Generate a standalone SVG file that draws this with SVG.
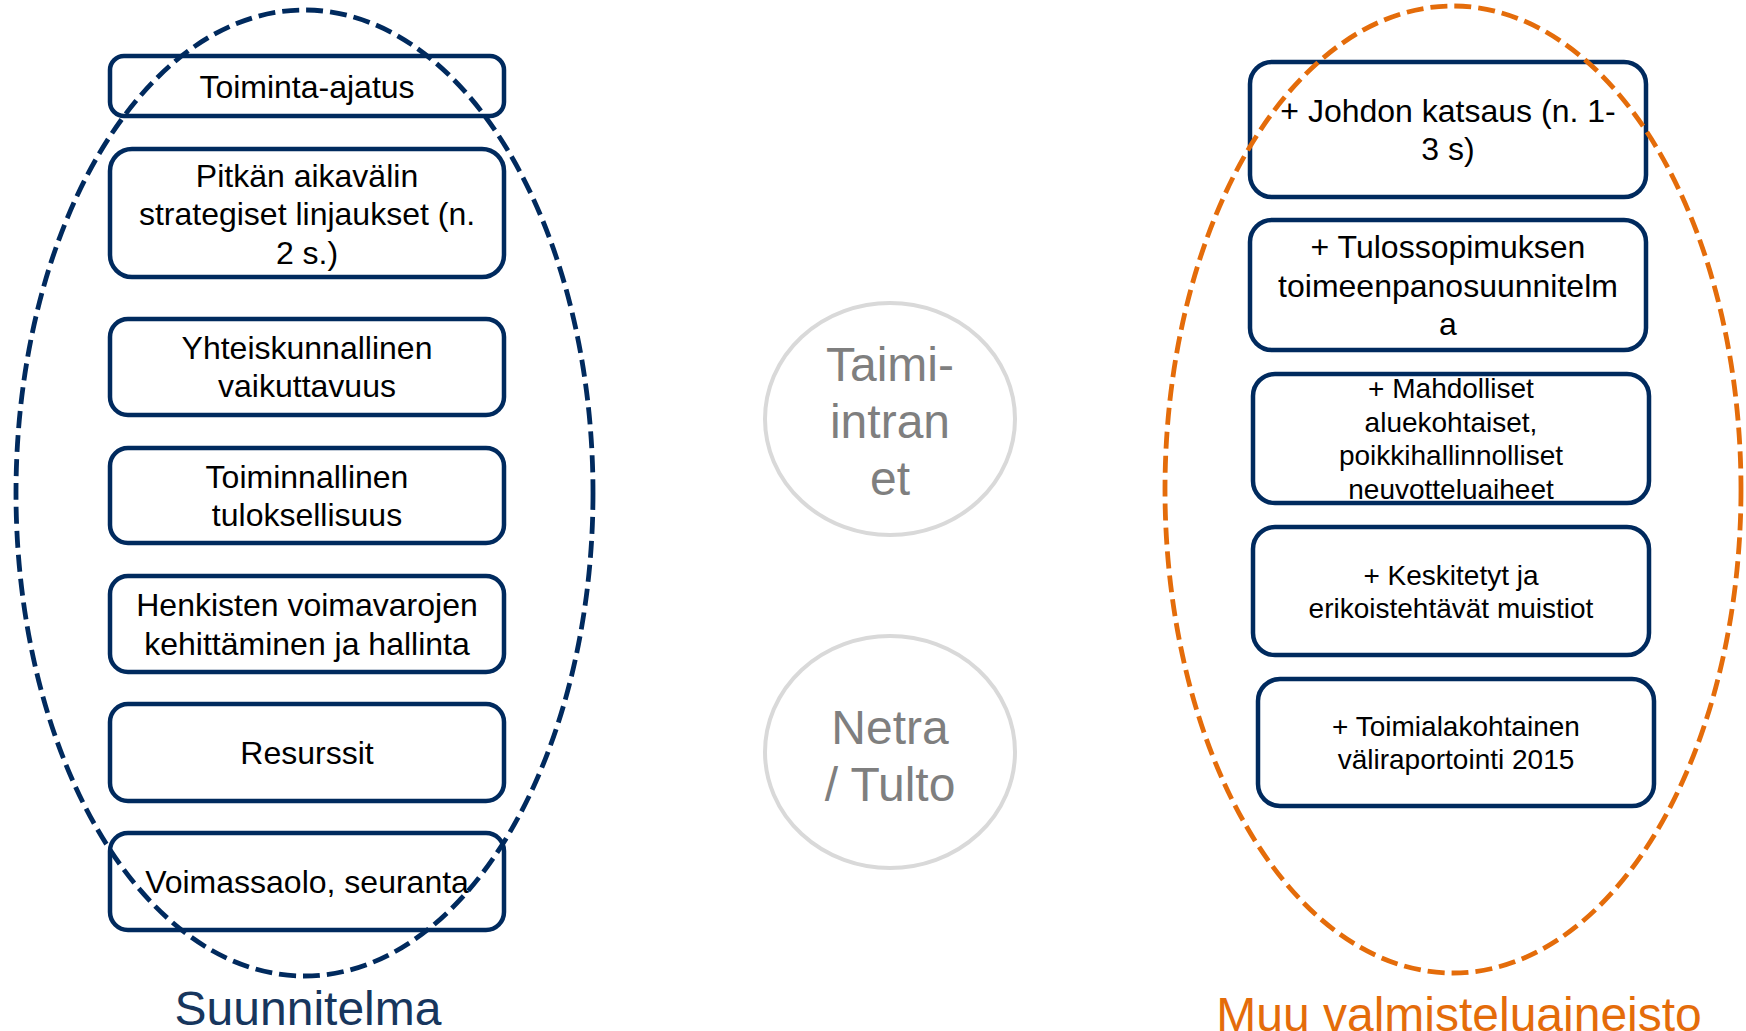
<svg xmlns="http://www.w3.org/2000/svg" width="1746" height="1031" viewBox="0 0 1746 1031">
<style>
.box{fill:#fff;stroke:#002A5E;stroke-width:4.5}
.t{font-family:"Liberation Sans",Arial,sans-serif;font-size:32px;fill:#000;text-anchor:middle}
.s{font-size:28px}
.c{fill:#fff;stroke:#D9D9D9;stroke-width:4}
.ct{font-family:"Liberation Sans",Arial,sans-serif;font-size:48px;fill:#7F7F7F;text-anchor:middle}
.ring{fill:none;stroke-width:4.8;stroke-dasharray:17 7}
.lbl{font-family:"Liberation Sans",Arial,sans-serif;font-size:48px;text-anchor:middle}
</style>
<rect width="1746" height="1031" fill="#fff"/>
<g id="left-boxes">
<g id="n1"><rect class="box" x="110" y="56" width="394" height="60" rx="14"/><text class="t" x="307" y="98">Toiminta-ajatus</text></g>
<g id="n2"><rect class="box" x="110" y="149" width="394" height="128" rx="22"/><text class="t" x="307" y="187">Pitkän aikavälin</text><text class="t" x="307" y="225">strategiset linjaukset (n.</text><text class="t" x="307" y="264">2 s.)</text></g>
<g id="n3"><rect class="box" x="110" y="319" width="394" height="96" rx="18"/><text class="t" x="307" y="359">Yhteiskunnallinen</text><text class="t" x="307" y="397">vaikuttavuus</text></g>
<g id="n4"><rect class="box" x="110" y="448" width="394" height="95" rx="18"/><text class="t" x="307" y="488">Toiminnallinen</text><text class="t" x="307" y="526">tuloksellisuus</text></g>
<g id="n5"><rect class="box" x="110" y="576" width="394" height="96" rx="18"/><text class="t" x="307" y="616">Henkisten voimavarojen</text><text class="t" x="307" y="655">kehittäminen ja hallinta</text></g>
<g id="n6"><rect class="box" x="110" y="704" width="394" height="97" rx="18"/><text class="t" x="307" y="764">Resurssit</text></g>
<g id="n7"><rect class="box" x="110" y="833" width="394" height="97" rx="18"/><text class="t" x="307" y="893">Voimassaolo, seuranta</text></g>
</g>
<g id="right-boxes">
<g id="r1"><rect class="box" x="1250" y="62" width="396" height="135" rx="22"/><text class="t" x="1448" y="122">+ Johdon katsaus (n. 1-</text><text class="t" x="1448" y="160">3 s)</text></g>
<g id="r2"><rect class="box" x="1250" y="220" width="396" height="130" rx="22"/><text class="t" x="1448" y="258">+ Tulossopimuksen</text><text class="t" x="1448" y="297">toimeenpanosuunnitelm</text><text class="t" x="1448" y="335">a</text></g>
<g id="r3"><rect class="box" x="1253" y="374" width="396" height="129" rx="22"/><text class="t s" x="1451" y="398">+ Mahdolliset</text><text class="t s" x="1451" y="432">aluekohtaiset,</text><text class="t s" x="1451" y="465">poikkihallinnolliset</text><text class="t s" x="1451" y="499">neuvotteluaiheet</text></g>
<g id="r4"><rect class="box" x="1253" y="527" width="396" height="128" rx="22"/><text class="t s" x="1451" y="585">+ Keskitetyt ja</text><text class="t s" x="1451" y="618">erikoistehtävät muistiot</text></g>
<g id="r5"><rect class="box" x="1258" y="679" width="396" height="127" rx="22"/><text class="t s" x="1456" y="736">+ Toimialakohtainen</text><text class="t s" x="1456" y="769">väliraportointi 2015</text></g>
</g>
<g id="rings">
<ellipse class="ring" cx="304.5" cy="493" rx="288.5" ry="483" stroke="#002A5E"/>
<ellipse class="ring" cx="1453" cy="489.5" rx="288" ry="483.5" stroke="#E46C0A"/>
</g>
<g id="taimi"><ellipse class="c" cx="890" cy="419" rx="125" ry="116"/><text class="ct" x="890" y="381">Taimi-</text><text class="ct" x="890" y="438">intran</text><text class="ct" x="890" y="495">et</text></g>
<g id="netra"><ellipse class="c" cx="890" cy="752" rx="125" ry="116"/><text class="ct" x="890" y="744">Netra</text><text class="ct" x="890" y="801">/ Tulto</text></g>
<g id="labels">
<text class="lbl" x="308" y="1025" fill="#17365D">Suunnitelma</text>
<text class="lbl" x="1459" y="1031" fill="#E46C0A">Muu valmisteluaineisto</text>
</g>
<g id="connectors"></g>
</svg>
